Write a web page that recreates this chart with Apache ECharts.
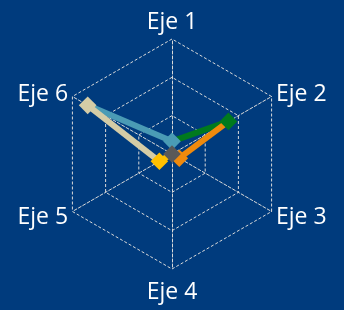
<!DOCTYPE html>
<html lang="es">
<head>
    <meta charset="utf-8">
    <title>Radar</title>
    <script src="https://cdn.jsdelivr.net/npm/echarts@6/dist/echarts.min.js"></script>
    <style>
        html, body { margin: 0; padding: 0; background: #003b7d; }
    </style>
</head>
<body>
<div id="main" style="width: 344px;height:310px;"></div>
<script type="text/javascript">
    // datos
    var ejes = ['Eje 1', 'Eje 2', 'Eje 3', 'Eje 4', 'Eje 5', 'Eje 6'];
    var valores = [0.33, 1.7, 0.22, 0, 0.38, 2.54];
    var colores = ['#4a9bb5', '#007a1e', '#f08a0c', '#595959', '#ffc000', '#d4cca6'];
    var maximo = 3;

    var myChart = echarts.init(document.getElementById('main'));

    var centro = [172, 154];
    var radio = 115;

    // radar va en sentido antihorario, asi que se invierte el orden
    var indicadores = [ejes[0]].concat(ejes.slice(1).reverse()).map(function (n) {
        return { name: n, max: maximo, min: 0 };
    });

    var series = [];
    // un tramo por punto, del punto anterior al actual, con el color del punto
    for (var i = 0; i < ejes.length; i++) {
        var prev = (i + ejes.length - 1) % ejes.length;
        series.push({
            type: 'line',
            coordinateSystem: 'polar',
            showSymbol: false,
            clip: false,
            silent: true,
            animation: false,
            z: 2,
            lineStyle: { color: colores[i], width: 6, cap: 'butt' },
            data: [[valores[prev], ejes[prev]], [valores[i], ejes[i]]]
        });
    }
    // marcadores encima de todos los tramos
    series.push({
        type: 'line',
        coordinateSystem: 'polar',
        showSymbol: true,
        showAllSymbol: true,
        symbol: 'rect',
        symbolRotate: 45,
        symbolSize: 12.5,
        clip: false,
        silent: true,
        animation: false,
        z: 5,
        lineStyle: { opacity: 0, width: 0 },
        data: valores.map(function (v, i) {
            return { value: [v, ejes[i]], itemStyle: { color: colores[i], opacity: 1 } };
        })
    });

    var option = {
        backgroundColor: '#003b7d',
        radar: {
            center: centro,
            radius: radio,
            startAngle: 90,
            shape: 'polygon',
            splitNumber: 3,
            indicator: indicadores,
            nameGap: 5,
            axisName: {
                color: '#ffffff',
                fontSize: 23,
                fontFamily: 'Open Sans',
                formatter: function (n) {
                    if (n === 'Eje 4') return '{abajo|' + n + '}';
                    if (n === 'Eje 3' || n === 'Eje 5') return '{lado|' + n + '}';
                    return n;
                },
                rich: {
                    abajo: { color: '#ffffff', fontSize: 23, fontFamily: 'Open Sans', padding: [7, 0, 0, 0] },
                    lado: { color: '#ffffff', fontSize: 23, fontFamily: 'Open Sans', padding: [7, 0, 0, 0] }
                }
            },
            axisLine: { lineStyle: { color: '#d9d9d9', type: [3, 2], width: 1 } },
            splitLine: { lineStyle: { color: '#d9d9d9', type: [3, 2], width: 1 } },
            splitArea: { show: false },
            axisTick: { show: false },
            axisLabel: { show: false }
        },
        polar: {
            center: centro,
            radius: radio
        },
        // con boundaryGap cada categoria queda a media banda, por eso se gira 30 grados
        angleAxis: {
            type: 'category',
            data: ejes,
            boundaryGap: true,
            startAngle: 120,
            clockwise: true,
            show: false
        },
        radiusAxis: {
            type: 'value',
            min: 0,
            max: maximo,
            show: false
        },
        series: series
    };
    myChart.setOption(option);
</script>
</body>
</html>
